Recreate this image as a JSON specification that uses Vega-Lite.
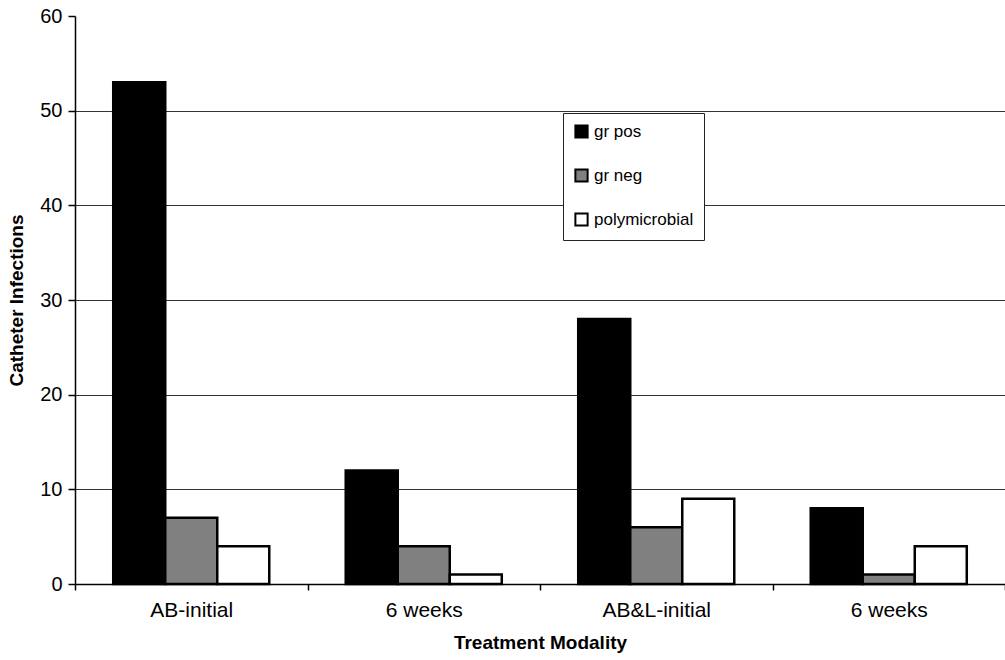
{
  "$schema": "https://vega.github.io/schema/vega-lite/v6.json",
  "autosize": {"type": "none"},
  "padding": {"left": 75, "top": 16, "right": 0, "bottom": 76},
  "width": 930,
  "height": 568,
  "background": "white",
  "config": {
    "font": "Liberation Sans",
    "view": {"stroke": null}
  },
  "data": {
    "values": [
      {"modality": "AB-initial", "organism": "gr pos", "infections": 53},
      {"modality": "AB-initial", "organism": "gr neg", "infections": 7},
      {"modality": "AB-initial", "organism": "polymicrobial", "infections": 4},
      {"modality": "6 weeks (AB)", "organism": "gr pos", "infections": 12},
      {"modality": "6 weeks (AB)", "organism": "gr neg", "infections": 4},
      {"modality": "6 weeks (AB)", "organism": "polymicrobial", "infections": 1},
      {"modality": "AB&L-initial", "organism": "gr pos", "infections": 28},
      {"modality": "AB&L-initial", "organism": "gr neg", "infections": 6},
      {"modality": "AB&L-initial", "organism": "polymicrobial", "infections": 9},
      {"modality": "6 weeks (AB&L)", "organism": "gr pos", "infections": 8},
      {"modality": "6 weeks (AB&L)", "organism": "gr neg", "infections": 1},
      {"modality": "6 weeks (AB&L)", "organism": "polymicrobial", "infections": 4}
    ]
  },
  "mark": {"type": "bar", "stroke": "black", "strokeWidth": 2.5},
  "encoding": {
    "x": {
      "field": "modality",
      "type": "nominal",
      "sort": ["AB-initial", "6 weeks (AB)", "AB&L-initial", "6 weeks (AB&L)"],
      "scale": {"paddingInner": 0, "paddingOuter": 0},
      "axis": {
        "title": "Treatment Modality",
        "titleFont": "Liberation Sans",
        "titleFontSize": 19,
        "titleFontWeight": "bold",
        "titleColor": "black",
        "titlePadding": 13,
        "labelAngle": 0,
        "labelFontSize": 21,
        "labelColor": "black",
        "labelPadding": 9,
        "labelExpr": "slice(datum.label, 0, 7) == '6 weeks' ? '6 weeks' : datum.label",
        "tickBand": "extent",
        "tickSize": 6,
        "tickColor": "black",
        "tickWidth": 1.5,
        "domainColor": "black",
        "domainWidth": 1.5,
        "grid": false
      }
    },
    "xOffset": {
      "field": "organism",
      "type": "nominal",
      "sort": ["gr pos", "gr neg", "polymicrobial"],
      "scale": {"paddingInner": 0, "paddingOuter": 0.735}
    },
    "y": {
      "field": "infections",
      "type": "quantitative",
      "scale": {"domain": [0, 60], "nice": false},
      "axis": {
        "title": "Catheter Infections",
        "titleFont": "Liberation Sans",
        "titleFontSize": 19,
        "titleFontWeight": "bold",
        "titleColor": "black",
        "titlePadding": 13,
        "values": [0, 10, 20, 30, 40, 50, 60],
        "labelFontSize": 20,
        "labelColor": "black",
        "labelPadding": 6,
        "tickSize": 7,
        "tickColor": "black",
        "tickWidth": 1.5,
        "domainColor": "black",
        "domainWidth": 1.5,
        "grid": true,
        "gridColor": {"condition": {"test": "datum.value == 60 || datum.value == 0", "value": "transparent"}, "value": "#333333"},
        "gridWidth": 1.2
      }
    },
    "fill": {
      "field": "organism",
      "type": "nominal",
      "scale": {
        "domain": ["gr pos", "gr neg", "polymicrobial"],
        "range": ["#000000", "#808080", "#ffffff"]
      },
      "legend": {
        "title": null,
        "orient": "none",
        "legendX": 488,
        "legendY": 97,
        "fillColor": "white",
        "strokeColor": "#222222",
        "padding": 10,
        "rowPadding": 23,
        "symbolType": "square",
        "symbolSize": 150,
        "symbolStrokeColor": "black",
        "symbolStrokeWidth": 2,
        "symbolOpacity": 1,
        "labelFontSize": 17,
        "labelColor": "black",
        "labelOffset": 4
      }
    }
  }
}
